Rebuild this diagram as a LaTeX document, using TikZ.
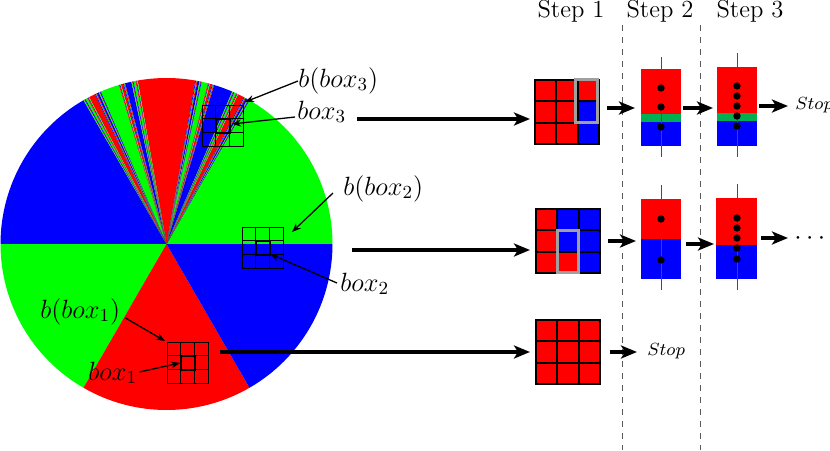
\RequirePackage{fix-cm}
\documentclass[tikz,border=0pt]{standalone}
\usetikzlibrary{arrows.meta}
\definecolor{c1}{rgb}{1,0,0}
\definecolor{c2}{rgb}{0,1,0}
\definecolor{c3}{rgb}{0,0,1}
\definecolor{dgreen}{RGB}{0,176,80}
\definecolor{pgray}{RGB}{160,160,160}
\def\pieR{166}
\newcommand\cantorfill[5]{%
  \begingroup
  \edef\cthird{\the\numexpr6-#3-#4\relax}%
  \edef\ccol{c\cthird}%
  \pgfmathsetmacro\cma{#1+(#2-#1)/3}%
  \pgfmathsetmacro\cmb{#1+2*(#2-#1)/3}%
  \ifnum#5=0\relax
    \fill[fill=\ccol] (0,0) -- (#1:\pieR) arc[start angle=#1,end angle=#2,radius=\pieR] -- cycle;
  \else
    \fill[fill=\ccol] (0,0) -- (\cma:\pieR) arc[start angle=\cma,end angle=\cmb,radius=\pieR] -- cycle;
    \edef\cnext{%
      \noexpand\cantorfill{\cmb}{#2}{#3}{\cthird}{\the\numexpr#5-1\relax}%
      \noexpand\cantorfill{#1}{\cma}{\cthird}{#4}{\the\numexpr#5-1\relax}}%
    \cnext
  \fi
  \endgroup}
\newcommand\piegrid[3]{%
  \begin{scope}[shift={(#2,#3)}]
    \foreach \i in {0,1,2,3}{%
      \draw[gridline] (\i*13.83,0) -- (\i*13.83,41.5);
      \draw[gridline] (0,\i*13.83) -- (41.5,\i*13.83);}
    \draw[hicell] (13.83,13.83) rectangle (27.67,27.67);
    \coordinate (#1) at (20.75,20.75);
  \end{scope}}
\newcommand\stepgrid[4]{%
  \begin{scope}[shift={(#2,#3)}]
    \foreach \cc [count=\k from 0] in {#4}{%
      \pgfmathtruncatemacro\rr{floor(\k/3)}%
      \pgfmathtruncatemacro\qq{mod(\k,3)}%
      \draw[cellbox,fill=\cc] (\qq*21.33,\rr*21.33) rectangle ++(21.33,21.33);}
    \node[inner sep=0pt,minimum width=32pt,minimum height=32pt] (#1) at (32,32) {};
  \end{scope}}
\begin{document}
\begin{tikzpicture}[x=0.5pt,y=-0.5pt,
  gridline/.style={draw=black,line width=0.5pt},
  hicell/.style={draw=black,line width=1pt},
  cellbox/.style={draw=black,line width=1.1pt},
  bigarrow/.style={line width=2.15pt,-{Stealth[length=8pt,width=6.5pt,inset=2pt]}},
  smallarrow/.style={line width=2.15pt,-{Stealth[length=8pt,width=6.5pt,inset=2pt]}},
  labarrow/.style={line width=0.65pt,-{Stealth[length=4.5pt,width=3.5pt]}},
  lab/.style={inner sep=0pt,anchor=base west,font=\fontsize{13.2}{16}\selectfont},
  steplab/.style={inner sep=0pt,anchor=base,font=\fontsize{12.3}{14}\selectfont},
  stoplab/.style={inner sep=0pt,anchor=base west,font=\fontsize{8.8}{10}\selectfont},
  sepline/.style={draw=black!65,line width=0.5pt,dashed},
  axisline/.style={draw=black!70,line width=0.5pt},
  dot/.style={fill=black}]
\useasboundingbox (0,0) rectangle (830,450);
% ---------- pie ----------
\begin{scope}[shift={(166.5,244)},yscale=-1]
  \fill[c2] (0,0) -- (0:\pieR) arc[start angle=0,end angle=60,radius=\pieR] -- cycle;
  \fill[c3] (0,0) -- (120:\pieR) arc[start angle=120,end angle=180,radius=\pieR] -- cycle;
  \fill[c2] (0,0) -- (180:\pieR) arc[start angle=180,end angle=240,radius=\pieR] -- cycle;
  \fill[c1] (0,0) -- (240:\pieR) arc[start angle=240,end angle=300,radius=\pieR] -- cycle;
  \fill[c3] (0,0) -- (300:\pieR) arc[start angle=300,end angle=360,radius=\pieR] -- cycle;
  \cantorfill{60}{120}{3}{2}{5}
\end{scope}
% grids on the pie
\piegrid{p3}{202}{105}
\piegrid{p2}{242}{227}
\piegrid{p1}{167}{342}
% labels on the pie
\node[lab] (lb3) at (298,87) {$b(box_3)$};
\node[lab] (l3) at (297,119) {$box_3$};
\node[lab] (lb2) at (343,195) {$b(box_2)$};
\node[lab] (l2) at (340,291) {$box_2$};
\node[lab] (lb1) at (40,318) {$b(box_1)$};
\node[lab] (l1) at (88,380) {$box_1$};
\coordinate (tb3) at (245,102);
\coordinate (t3) at (232,124);
\coordinate (tb2) at (292,232);
\coordinate (t2) at (270,254);
\coordinate (tb1) at (165,341);
\coordinate (t1) at (180,363);
\draw[labarrow] (lb3.west |- 0,81) -- (tb3);
\draw[labarrow] ([xshift=-1pt]l3.west |- 0,117) -- (t3);
\draw[labarrow] (333,193) -- (tb2);
\draw[labarrow] ([xshift=-1.5pt]l2.west |- 0,283) -- (t2);
\draw[labarrow] ([xshift=2.5pt]lb1.east |- 0,318) -- (tb1);
\draw[labarrow] ([xshift=1pt]l1.east |- 0,372) -- (t1);
% step labels and separators
\node[steplab] (s1) at (571,17) {Step 1};
\node[steplab] (s2) at (660,17) {Step 2};
\node[steplab] (s3) at (750,17) {Step 3};
\coordinate (d1t) at (622,25);
\coordinate (d1b) at (622,450);
\coordinate (d2t) at (700,25);
\coordinate (d2b) at (700,450);
\draw[sepline] (d1t) -- (d1b);
\draw[sepline] (d2t) -- (d2b);
% step 1 grids
\stepgrid{g3}{535}{80}{c1,c1,c1,c1,c1,c3,c1,c1,c3}
\stepgrid{g2}{536}{209}{c1,c3,c3,c1,c3,c3,c1,c1,c3}
\stepgrid{g1}{536}{320}{c1,c1,c1,c1,c1,c1,c1,c1,c1}
\draw[pgray,line width=1.5pt] (575,79.5) rectangle (597,122);
\draw[pgray,line width=1.5pt] (557.5,230.5) rectangle (578,272);
% big arrows
\coordinate (a3s) at (357,119);
\coordinate (a3e) at (530,119);
\coordinate (a2s) at (352,250);
\coordinate (a2e) at (530,250);
\coordinate (a1s) at (220,352);
\coordinate (a1e) at (530,352);
\draw[bigarrow] (a3s) -- (a3e);
\draw[bigarrow] (a2s) -- (a2e);
\draw[bigarrow] (a1s) -- (a1e);
% step 2 and 3 columns, top row
\fill[c1] (641,69) rectangle (681,114);
\fill[dgreen] (641,114) rectangle (681,122);
\fill[c3] (641,122) rectangle (681,146);
\draw[axisline] (661,57) -- (661,157);
\foreach \yy in {88,107,127} \fill[dot] (661,\yy) circle (3.7);
\fill[c1] (717,67) rectangle (757,113);
\fill[dgreen] (717,113) rectangle (757,121);
\fill[c3] (717,121) rectangle (757,146);
\draw[axisline] (737,53) -- (737,157);
\foreach \yy in {86,96,106,116,126} \fill[dot] (737,\yy) circle (3.7);
% middle row
\fill[c1] (641,199) rectangle (681,239);
\fill[c3] (641,239) rectangle (681,279);
\draw[axisline] (661,185) -- (661,290);
\foreach \yy in {219,260} \fill[dot] (661,\yy) circle (3.7);
\fill[c1] (716,198) rectangle (757,245);
\fill[c3] (716,245) rectangle (757,279);
\draw[axisline] (737,184) -- (737,290);
\foreach \yy in {218,228,238,248,259} \fill[dot] (737,\yy) circle (3.7);
% small arrows
\coordinate (b31s) at (607,108); \coordinate (b31e) at (635,108);
\coordinate (b32s) at (683,108); \coordinate (b32e) at (713,108);
\coordinate (b33s) at (759,106); \coordinate (b33e) at (788,106);
\coordinate (b21s) at (608,241); \coordinate (b21e) at (636,241);
\coordinate (b22s) at (686,244); \coordinate (b22e) at (714,244);
\coordinate (b23s) at (761,238); \coordinate (b23e) at (788,238);
\coordinate (b11s) at (610,352); \coordinate (b11e) at (637,352);
\foreach \s/\e in {b31s/b31e,b32s/b32e,b33s/b33e,b21s/b21e,b22s/b22e,b23s/b23e,b11s/b11e}
  \draw[smallarrow] (\s) -- (\e);
\node[stoplab] (stop3) at (795,109.5) {$Stop$};
\node[stoplab] (stop1) at (647,355) {$Stop$};
\node[lab] (dots2) at (794,244.5) {$\cdots$};
\end{tikzpicture}
\end{document}
